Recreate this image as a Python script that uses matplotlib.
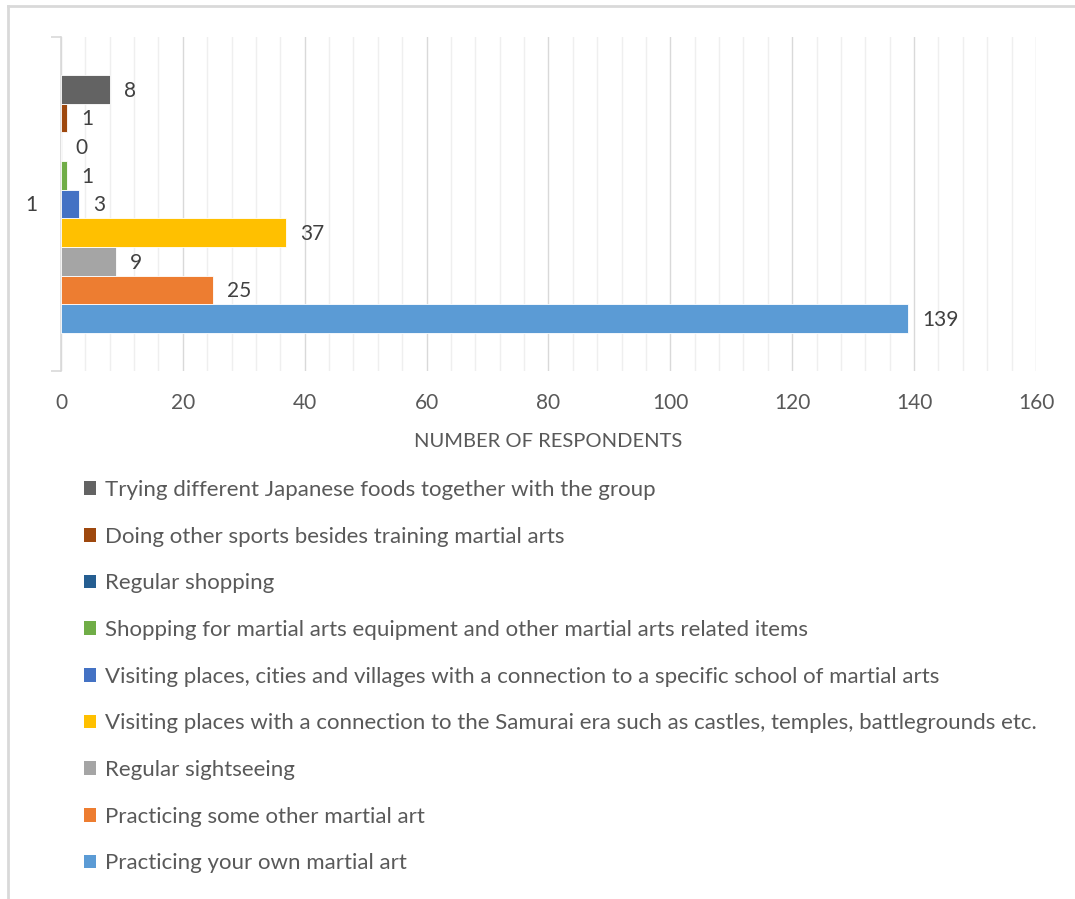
import matplotlib
matplotlib.use("Agg")
import matplotlib.pyplot as plt
from matplotlib.patches import Patch
from matplotlib.lines import Line2D
from matplotlib.ticker import MultipleLocator

# Activities, listed from the bottom bar up
activities = [
    "Practicing your own martial art",
    "Practicing some other martial art",
    "Regular sightseeing",
    "Visiting places with a connection to the Samurai era such as castles, temples, battlegrounds etc.",
    "Visiting places, cities and villages with a connection to a specific school of martial arts",
    "Shopping for martial arts equipment and other martial arts related items",
    "Regular shopping",
    "Doing other sports besides training martial arts",
    "Trying different Japanese foods together with the group",
]
respondents = [139, 25, 9, 37, 3, 1, 0, 1, 8]
colors = ["#5B9BD5", "#ED7D31", "#A5A5A5", "#FFC000", "#4472C4",
          "#70AD47", "#255E91", "#9E480E", "#636363"]
x_ticks = [0, 20, 40, 60, 80, 100, 120, 140, 160]

plt.rcParams['font.family'] = ['Lato', 'DejaVu Sans']
text_gray = "#595959"

fig = plt.figure(figsize=(10.75, 8.99), dpi=100)
ax = fig.add_axes([0.05674, 0.58732, 0.90698, 0.37152])

n = len(respondents)
bar_h = 0.772 / n
y0 = -0.386
bars = []
for i, (val, col) in enumerate(zip(respondents, colors)):
    yc = y0 + (i + 0.5) * bar_h
    b = ax.barh(yc, val, height=bar_h, color=col, edgecolor="white", linewidth=0.6, zorder=3)
    bars.append(b)
    ax.annotate(str(val), xy=(val, yc), xytext=(10, -1), textcoords="offset points",
                ha="left", va="center", fontsize=15, color="#404040", zorder=4)

# extra label sitting left of the axis
ax.annotate("1", xy=(0, y0 + 4.5 * bar_h), xytext=(-17, -1), textcoords="offset points",
            ha="right", va="center", fontsize=15, color="#404040", annotation_clip=False)

ax.set_xlim(0, 160)
ax.set_ylim(-0.5, 0.5)
ax.set_xticks(x_ticks)
ax.xaxis.set_minor_locator(MultipleLocator(4))
ax.grid(axis="x", which="major", color="#D9D9D9", linewidth=1.0, zorder=0)
ax.grid(axis="x", which="minor", color="#EFEFEF", linewidth=1.0, zorder=0)
ax.tick_params(axis="x", which="both", length=0, pad=16, labelsize=15, labelcolor=text_gray)
ax.set_yticks([-0.5, 0.5])
ax.set_yticklabels([])
ax.tick_params(axis="y", length=7, color="#D9D9D9", width=1.2)
for s in ["top", "right", "bottom"]:
    ax.spines[s].set_visible(False)
ax.spines["left"].set_color("#D9D9D9")
ax.spines["left"].set_linewidth(1.2)
ax.set_xlabel("NUMBER OF RESPONDENTS", fontsize=14.5, color=text_gray, labelpad=14)

handles = [Patch(facecolor=c, edgecolor="none") for c in colors][::-1]
leg = fig.legend(handles, activities[::-1], loc="upper left",
                 bbox_to_anchor=(84 / 1075, 1 - 480 / 899), frameon=False,
                 fontsize=16, labelcolor=text_gray, handlelength=0.55,
                 handleheight=0.55, handletextpad=0.4, labelspacing=1.2,
                 borderaxespad=0, borderpad=0)

# outer frame on the left and top
fig.add_artist(Line2D([8 / 1075, 8 / 1075], [0, 1 - 6 / 899], color="#D9D9D9", linewidth=2,
                      transform=fig.transFigure))
fig.add_artist(Line2D([8 / 1075, 1], [1 - 6 / 899, 1 - 6 / 899], color="#D9D9D9", linewidth=2,
                      transform=fig.transFigure))

fig.savefig("out.png", dpi=100, facecolor="white")
